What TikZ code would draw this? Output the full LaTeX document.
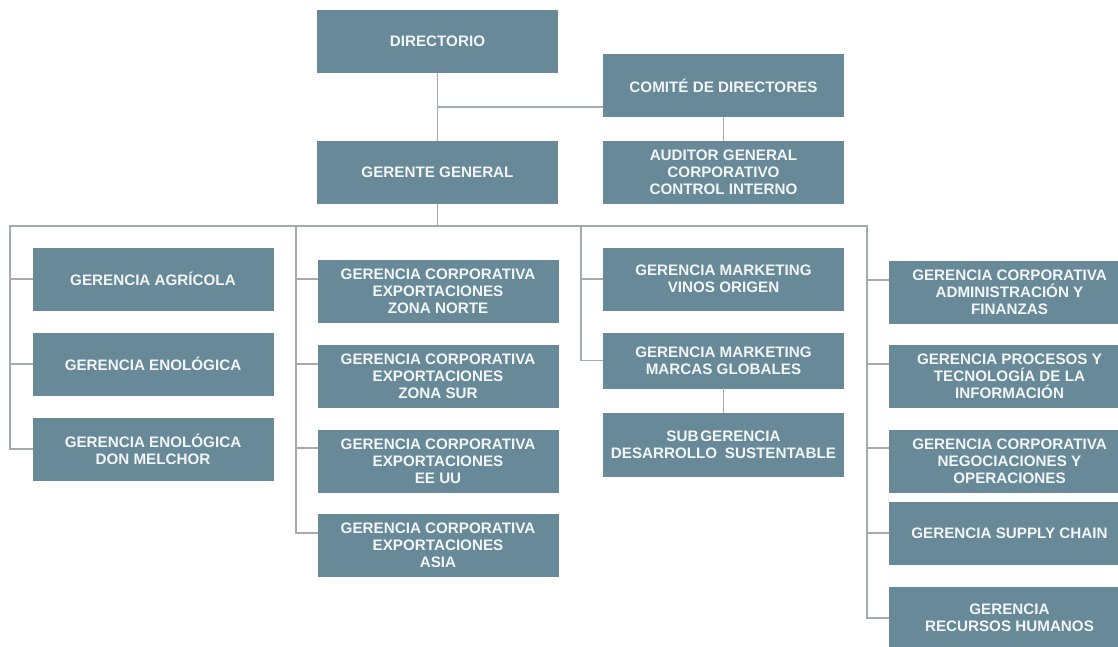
\documentclass[tikz,border=0pt]{standalone}
\usepackage{fontspec}
\setmainfont{Liberation Sans}
\definecolor{boxc}{RGB}{103,137,152}
\definecolor{linec}{RGB}{165,170,174}
\definecolor{txtc}{RGB}{242,246,247}
\begin{document}
\begin{tikzpicture}[x=1pt,y=-1pt,
  unit/.style={fill=boxc, text=txtc, minimum width=241pt, minimum height=63pt,
    inner sep=0pt, align=center, font=\bfseries\fontsize{15.2}{17.2}\selectfont},
  link/.style={draw=linec, line width=1.3pt, line cap=rect}]
\useasboundingbox (0,0) rectangle (1118,646);
\clip (0,0) rectangle (1118,646);
\fill[white] (0,0) rectangle (1118,646);

% top management
\node[unit] (dir) at (437.5,41.5) {DIRECTORIO};
\node[unit] (com) at (723.5,85.5) {COMITÉ DE DIRECTORES};
\node[unit] (gg)  at (437.5,172)  {GERENTE GENERAL};
\node[unit] (aud) at (723.5,172)  {AUDITOR GENERAL\\CORPORATIVO\\CONTROL INTERNO};

% column 1
\node[unit] (agr) at (153,279) {GERENCIA AGRÍCOLA};
\node[unit] (eno) at (153,364) {GERENCIA ENOLÓGICA};
\node[unit] (don) at (153,449) {GERENCIA ENOLÓGICA\\DON MELCHOR};

% column 2
\node[unit] (norte) at (438,291.5) {GERENCIA CORPORATIVA\\EXPORTACIONES\\ZONA NORTE};
\node[unit] (sur)   at (438,376)   {GERENCIA CORPORATIVA\\EXPORTACIONES\\ZONA SUR};
\node[unit] (eeuu)  at (438,461)   {GERENCIA CORPORATIVA\\EXPORTACIONES\\EE UU};
\node[unit] (asia)  at (438,545.5) {GERENCIA CORPORATIVA\\EXPORTACIONES\\ASIA};

% column 3
\node[unit] (vinos)  at (723.5,279) {GERENCIA MARKETING\\VINOS ORIGEN};
\node[unit, minimum height=56pt] (marcas) at (723.5,360.5) {GERENCIA MARKETING\\MARCAS GLOBALES};
\node[unit, minimum height=64pt] (sub)    at (723.5,445) {SUB\hspace{0.12em}GERENCIA\\DESARROLLO\hspace{0.5em}SUSTENTABLE};

% column 4
\node[unit] (adm)  at (1009.5,292) {GERENCIA CORPORATIVA\\ADMINISTRACIÓN Y\\FINANZAS};
\node[unit] (proc) at (1009.5,376) {GERENCIA PROCESOS Y\\TECNOLOGÍA DE LA\\INFORMACIÓN};
\node[unit] (nego) at (1009.5,461) {GERENCIA CORPORATIVA\\NEGOCIACIONES Y\\OPERACIONES};
\node[unit] (sup)  at (1009.5,533) {GERENCIA SUPPLY CHAIN};
\node[unit] (rrhh) at (1009.5,618) {GERENCIA\\RECURSOS HUMANOS};

% junctions
\coordinate (jd) at (437.5,107);
\coordinate (b1) at (10,226);
\coordinate (b2) at (296,226);
\coordinate (b3) at (581,226);
\coordinate (b4) at (867,226);

% connectors
\draw[link] (dir.south) -- (gg.north);
\draw[link] (jd) -- (com.west |- jd);
\draw[link] (com.south) -- (aud.north);
\draw[link] (gg.south) -- (gg.south |- b1);
\draw[link] (b1) -- (b4);

\draw[link] (b1) |- (agr.west);
\draw[link] (b1) |- (eno.west);
\draw[link] (b1) |- (don.west);

\draw[link] (b2) |- ([yshift=12.5pt]norte.west);
\draw[link] (b2) |- ([yshift=12pt]sur.west);
\draw[link] (b2) |- ([yshift=13pt]eeuu.west);
\draw[link] (b2) |- ([yshift=12.5pt]asia.west);

\draw[link] (b3) |- (vinos.west);
\draw[link] (b3) |- (marcas.west);
\draw[link] (marcas.south) -- (sub.north);

\draw[link] (b4) |- ([yshift=12pt]adm.west);
\draw[link] (b4) |- ([yshift=12pt]proc.west);
\draw[link] (b4) |- ([yshift=13pt]nego.west);
\draw[link] (b4) |- (sup.west);
\draw[link] (b4) |- (rrhh.west);
\end{tikzpicture}
\end{document}
